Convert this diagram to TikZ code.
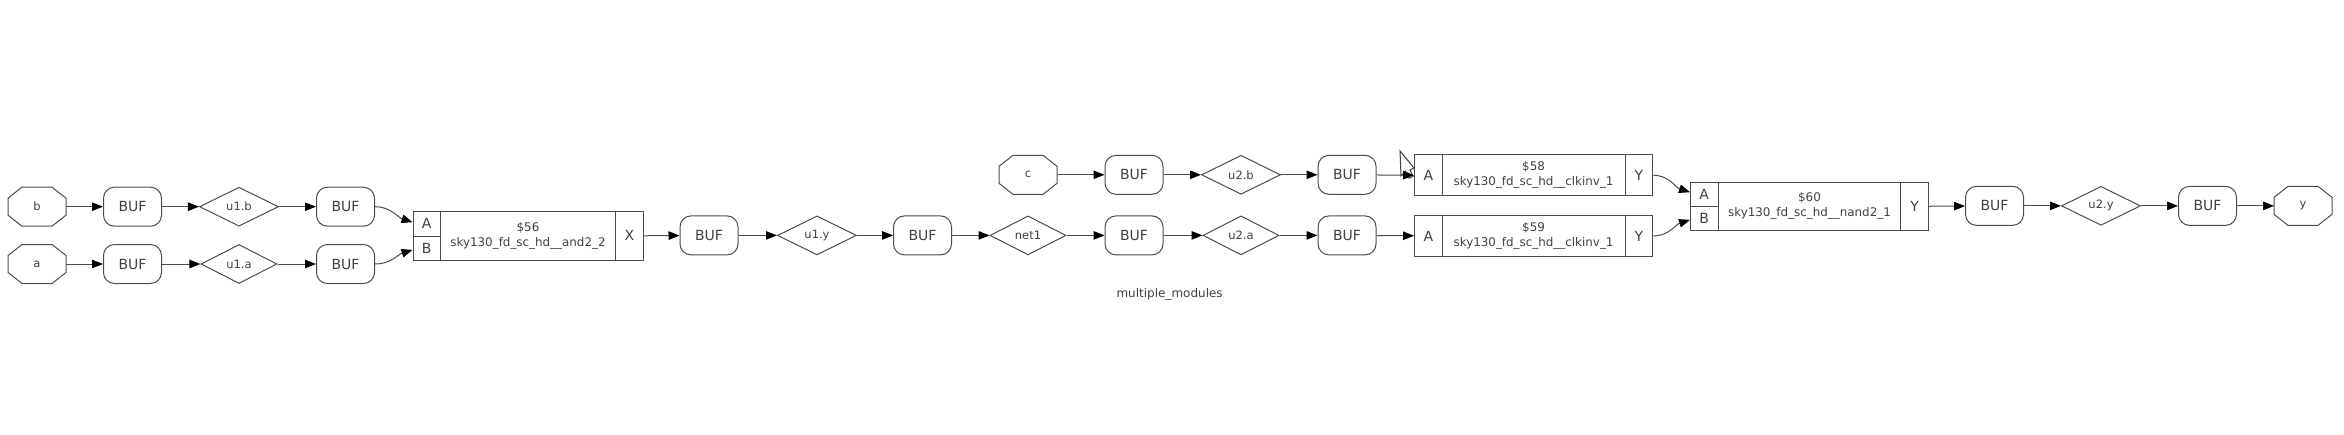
\documentclass[tikz,border=0pt]{standalone}
\usepackage{fontspec}
\setmainfont{DejaVu Sans}
\usetikzlibrary{arrows.meta,shapes.geometric}
\definecolor{wire}{gray}{0.3}
\tikzset{
  wirearrow/.style={draw=wire,line width=1pt,-{Triangle[black,length=11pt,width=8.5pt]}},
  bufbox/.style={draw=wire,line width=1pt,rounded corners=11pt,minimum width=58pt,minimum height=39pt,inner sep=0pt,font=\fontsize{14}{16}\selectfont,text=black!75},
  netbox/.style={draw=wire,line width=1pt,diamond,aspect=2,minimum width=79pt,minimum height=39pt,inner sep=0pt,font=\fontsize{11.5}{13}\selectfont,text=black!75},
  portbox/.style={minimum width=58pt,minimum height=39pt,inner sep=0pt,outer sep=0pt,font=\fontsize{11.5}{13}\selectfont,text=black!75},
  portline/.style={draw=wire,line width=1pt},
  cellbox/.style={draw=wire,line width=1pt,anchor=north west,inner sep=0pt,font=\fontsize{14}{16}\selectfont,text=black!75},
  bodybox/.style={cellbox,align=center,font=\fontsize{11.9}{15}\selectfont},
}
\begin{document}
\begin{tikzpicture}[x=1pt,y=-1pt]
  \useasboundingbox (0,0) rectangle (2344,434);
  % mouse pointer left in the screenshot
  \draw[black!75,fill=white,line width=1pt] (1400,151)--(1401,176)--(1405.5,171)--(1409,178)--(1413,176.5)--(1410,170)--(1414,168)--cycle;
  % inputs and outputs
  \foreach \name/\x/\y/\txt in {pb/37/206.7/b, pa/37/264/a, pc/1028/174.8/c, py/2303/205.85/y}{
    \node[portbox] (\name) at (\x,\y) {\txt};
    \draw[portline] ([xshift=14pt]\name.north west)--([xshift=-14pt]\name.north east)--([yshift=-11pt]\name.north east)--([yshift=11pt]\name.south east)
      --([xshift=-14pt]\name.south east)--([xshift=14pt]\name.south west)--([yshift=11pt]\name.south west)--([yshift=-11pt]\name.north west)--cycle;
  }
  % buffers
  \foreach \name/\x/\y in {ba/132.5/206.7, bb/345.5/206.7, bc/132.5/264, bd/345.5/264, be/709/235.4, bf/922.5/235.4,
      bg/1134/174.8, bh/1347/174.8, bi/1134/235.4, bj/1347/235.4, bk/1994.5/205.85, bl/2207.5/205.85}
    \node[bufbox] (\name) at (\x,\y) {BUF};
  % nets
  \foreach \name/\x/\y/\netw/\txt in {nub/239/206.7/79/u1.b, nua/239/264/76/u1.a, nuy/817/235.4/79/u1.y, nnet/1028/235.4/76/net1,
      nvb/1241/174.8/79/u2.b, nva/1241/235.4/76/u2.a, nvy/2101/205.85/79/u2.y}
    \node[netbox,minimum width=\netw pt] (\name) at (\x,\y) {\txt};
  % cell $56
  \node[cellbox,minimum width=27.5pt,minimum height=25pt] (caa) at (412.5,210.7) {A};
  \node[cellbox,minimum width=27.5pt,minimum height=24.3pt] (cab) at (412.5,235.7) {B};
  \node[bodybox,minimum width=175pt,minimum height=49.3pt] (cam) at (440,210.7) {\$56\\sky130\_fd\_sc\_hd\_\_and2\_2};
  \node[cellbox,minimum width=27.6pt,minimum height=49.3pt] (cax) at (615,210.7) {X};
  % cell $58
  \node[cellbox,minimum width=27.6pt,minimum height=40.8pt] (cba) at (1414,154.4) {A};
  \node[bodybox,minimum width=182.9pt,minimum height=40.8pt] (cbm) at (1441.6,154.4) {\$58\\sky130\_fd\_sc\_hd\_\_clkinv\_1};
  \node[cellbox,minimum width=27.9pt,minimum height=40.8pt] (cby) at (1624.5,154.4) {Y};
  % cell $59
  \node[cellbox,minimum width=27.6pt,minimum height=40.4pt] (cca) at (1414,215.2) {A};
  \node[bodybox,minimum width=182.9pt,minimum height=40.4pt] (ccm) at (1441.6,215.2) {\$59\\sky130\_fd\_sc\_hd\_\_clkinv\_1};
  \node[cellbox,minimum width=27.9pt,minimum height=40.4pt] (ccy) at (1624.5,215.2) {Y};
  % cell $60
  \node[cellbox,minimum width=27.5pt,minimum height=24pt] (cda) at (1690,181.7) {A};
  \node[cellbox,minimum width=27.5pt,minimum height=24.3pt] (cdb) at (1690,205.7) {B};
  \node[bodybox,minimum width=182.9pt,minimum height=48.3pt] (cdm) at (1717.5,181.7) {\$60\\sky130\_fd\_sc\_hd\_\_nand2\_1};
  \node[cellbox,minimum width=27.2pt,minimum height=48.3pt] (cdy) at (1900.4,181.7) {Y};
  \node[font=\fontsize{12}{14}\selectfont,text=black!75] (title) at (1169.6,294.5) {multiple\_modules};
  % straight wires
  \foreach \a/\b in {pb/ba, ba/nub, nub/bb, pa/bc, bc/nua, nua/bd, cax/be, be/nuy, nuy/bf, bf/nnet, nnet/bi, bi/nva, nva/bj, bj/cca,
      pc/bg, bg/nvb, nvb/bh, bh/cba, cdy/bk, bk/nvy, nvy/bl, bl/py}
    \draw[wirearrow] (\a) -- (\b);
  % bent wires into the two input pins
  \draw[wirearrow] (bb.east) to[out=0,in=162] ([yshift=1.5pt]caa.west);
  \draw[wirearrow] (bd.east) to[out=0,in=198] ([yshift=-1.5pt]cab.west);
  \draw[wirearrow] (cby.east) to[out=0,in=162] ([yshift=2pt]cda.west);
  \draw[wirearrow] (ccy.east) to[out=0,in=198] ([yshift=-1.5pt]cdb.west);
\end{tikzpicture}
\end{document}
